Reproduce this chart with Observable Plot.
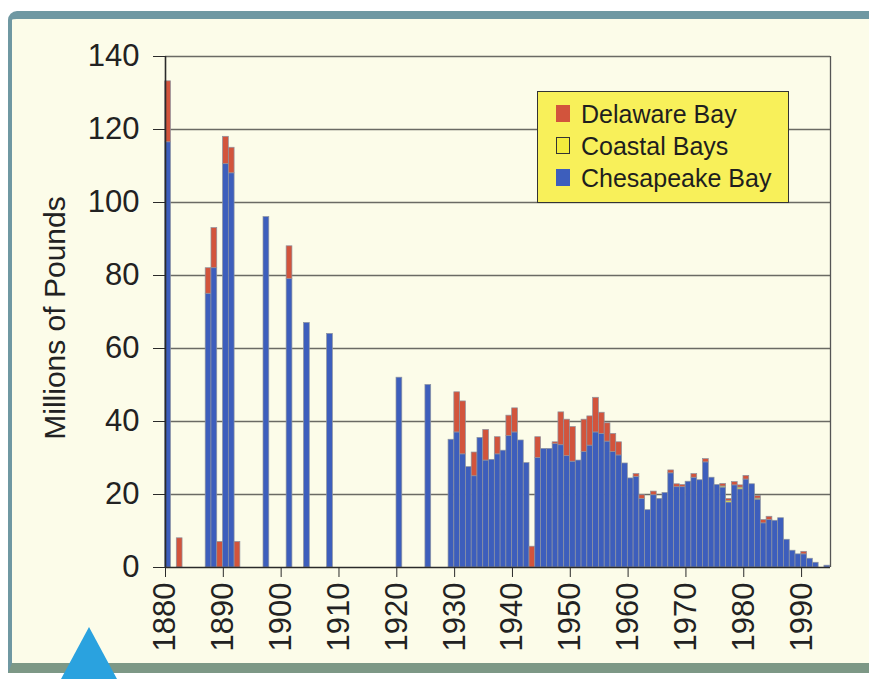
<!DOCTYPE html>
<html>
<head>
<meta charset="utf-8">
<script src="https://cdn.jsdelivr.net/npm/d3@7"></script>
<script src="https://cdn.jsdelivr.net/npm/@observablehq/plot@0.6"></script>
<style>
  html, body { margin: 0; padding: 0; background: #ffffff; }
  #wrap { position: relative; width: 869px; height: 679px; overflow: hidden; background: #ffffff;
          font-family: "Liberation Sans", Arial, Helvetica, sans-serif; }
  #frame { position: absolute; left: 8px; top: 11px; width: 920px; height: 644px; background: #fcfce9;
           border-top: 8px solid #6f98a2; border-left: 4px solid #6f98a2; border-bottom: 10px solid #7d9886;
           border-top-left-radius: 9px; }
  #chart { position: absolute; left: 0; top: 0; }
  #legend { position: absolute; left: 537px; top: 91px; width: 252px; height: 112px; background: #f8f05a;
            border: 1.5px solid #333; box-sizing: border-box; padding-top: 6px; }
  .row { position: relative; height: 32px; line-height: 32px; font-size: 25px; color: #1e1e1e; padding-left: 43px; white-space: nowrap; }
  .sw { position: absolute; left: 18px; top: 7px; width: 14px; height: 17px; box-sizing: border-box; }
  #tri { position: absolute; left: 61px; top: 627px; width: 0; height: 0;
         border-left: 28px solid transparent; border-right: 28px solid transparent; border-bottom: 52px solid #2aa2df; }
</style>
</head>
<body>
<div id="wrap">
  <div id="frame"></div>
  <div id="chart"></div>
  <div id="legend"></div>
  <div id="tri"></div>
</div>
<script>
// ---- data (millions of pounds) ----
const years = [1880, 1882, 1887, 1888, 1889, 1890, 1891, 1892, 1897, 1901, 1904, 1908, 1920, 1925,
  1929, 1930, 1931, 1932, 1933, 1934, 1935, 1936, 1937, 1938, 1939, 1940, 1941, 1942, 1943, 1944,
  1945, 1946, 1947, 1948, 1949, 1950, 1951, 1952, 1953, 1954, 1955, 1956, 1957, 1958, 1959, 1960,
  1961, 1962, 1963, 1964, 1965, 1966, 1967, 1968, 1969, 1970, 1971, 1972, 1973, 1974, 1975, 1976,
  1977, 1978, 1979, 1980, 1981, 1982, 1983, 1984, 1985, 1986, 1987, 1988, 1989, 1990, 1991, 1992, 1994];

const chesapeake = [116.5, 0, 75, 82, 0, 110.5, 108, 0, 96, 79, 67, 64, 52, 50,
  35, 37, 31, 27.5, 25, 35.5, 29.3, 29.5, 31, 32, 36, 37, 34.8, 28.6, 0, 30,
  32.5, 32.5, 33.8, 33.5, 30.5, 29, 29.3, 31.6, 33.4, 37, 36.6, 34.5, 31.6, 30.7, 28.5, 24.4,
  24.8, 18.8, 15.7, 19.8, 18.8, 20.4, 25.8, 22, 22, 23.5, 24.6, 23.9, 28.8, 24.6, 22.6, 21.9,
  17.8, 22.5, 21.4, 24.1, 22.8, 18.6, 12.1, 13, 12.8, 13.5, 7.6, 4.6, 3.6, 3.6, 2.4, 1.3, 0.5];

const coastal = [0, 0, 0, 0, 0, 0, 0, 0, 0, 0, 0, 0, 0, 0,
  0, 0, 0, 0, 0, 0, 0, 0, 0, 0, 0, 0, 0, 0, 0, 0,
  0, 0, 0, 0, 0, 0, 0, 0, 0, 0, 0, 0, 0, 0, 0, 0,
  0, 0, 0, 0, 0, 0, 0, 0, 0, 0, 0, 0, 0, 0, 0, 0.3,
  0.4, 0, 0.5, 0, 0, 0.3, 0, 0, 0, 0, 0, 0, 0, 0, 0, 0, 0];

const delaware = [16.7, 8, 7, 11, 7, 7.5, 7, 7, 0, 9, 0, 0, 0, 0,
  0, 11, 14.5, 0, 6.5, 0, 8.4, 0, 4.7, 0, 5.6, 6.6, 0, 0, 5.7, 5.7,
  0, 0, 0.5, 9, 10, 9.5, 0, 8.9, 8, 9.5, 5.8, 5, 5, 3.6, 0, 0,
  0.8, 1, 0, 1, 0, 0, 0.8, 0.8, 0.6, 0, 1, 0, 0.9, 0, 0, 0.7,
  0.6, 0.9, 0.6, 1, 0, 0.7, 0.9, 0.9, 0, 0, 0, 0, 0, 0.7, 0, 0, 0];

const bays = ["Chesapeake Bay", "Coastal Bays", "Delaware Bay"];
const bayColors = ["#3d5ebc", "#f3ec3c", "#d2543c"];
const legendOrder = ["Delaware Bay", "Coastal Bays", "Chesapeake Bay"];
const xTicks = [1880, 1890, 1900, 1910, 1920, 1930, 1940, 1950, 1960, 1970, 1980, 1990];
const yTicks = [0, 20, 40, 60, 80, 100, 120, 140];
const xDomain = [1880, 1995];
const yLabel = "Millions of Pounds";

const series = [chesapeake, coastal, delaware];
const long = years.flatMap((yr, i) => bays.map((b, k) => ({year: yr, bay: b, value: series[k][i]})))
  .filter(d => d.value > 0);

const chart = Plot.plot({
  width: 869,
  height: 679,
  marginLeft: 165,
  marginRight: 39,
  marginTop: 56,
  marginBottom: 112,
  style: {background: "transparent", fontFamily: "'Liberation Sans', Arial, Helvetica, sans-serif", color: "#222", overflow: "visible"},
  x: {domain: xDomain},
  y: {domain: [0, 140]},
  color: {domain: bays, range: bayColors},
  marks: [
    Plot.ruleY(yTicks.slice(1), {stroke: "#6a6a64", strokeWidth: 1.4}),
    Plot.rectY(long, {
      x1: d => d.year - 0.05, x2: d => d.year + 0.95, y: "value", fill: "bay", order: bays,
      stroke: "#8d93a0", strokeWidth: 0.7
    }),
    Plot.ruleX([xDomain[1]], {stroke: "#555", strokeWidth: 1.3}),
    Plot.ruleX([xDomain[0]], {stroke: "#2a2a2a", strokeWidth: 1.6}),
    Plot.ruleY([0], {stroke: "#2a2a2a", strokeWidth: 1.6}),
    Plot.axisX({ticks: xTicks, tickFormat: d => String(d), tickRotate: -90, tickSize: 10, tickPadding: 5, fontSize: 31, label: null, stroke: "#2a2a2a"}),
    Plot.axisY({ticks: yTicks, tickSize: 12, tickPadding: 14, fontSize: 31, label: null, stroke: "#2a2a2a"}),
    Plot.text([yLabel], {frameAnchor: "left", dx: -110, dy: 6, rotate: -90, textAnchor: "middle", fontSize: 30, fill: "#222"})
  ]
});
document.getElementById("chart").appendChild(chart);

const legend = document.getElementById("legend");
legendOrder.forEach(name => {
  const row = document.createElement("div");
  row.className = "row";
  const sw = document.createElement("span");
  sw.className = "sw";
  sw.style.background = bayColors[bays.indexOf(name)];
  if (name === "Coastal Bays") sw.style.border = "1px solid #333";
  row.appendChild(sw);
  row.appendChild(document.createTextNode(name));
  legend.appendChild(row);
});
</script>
</body>
</html>
